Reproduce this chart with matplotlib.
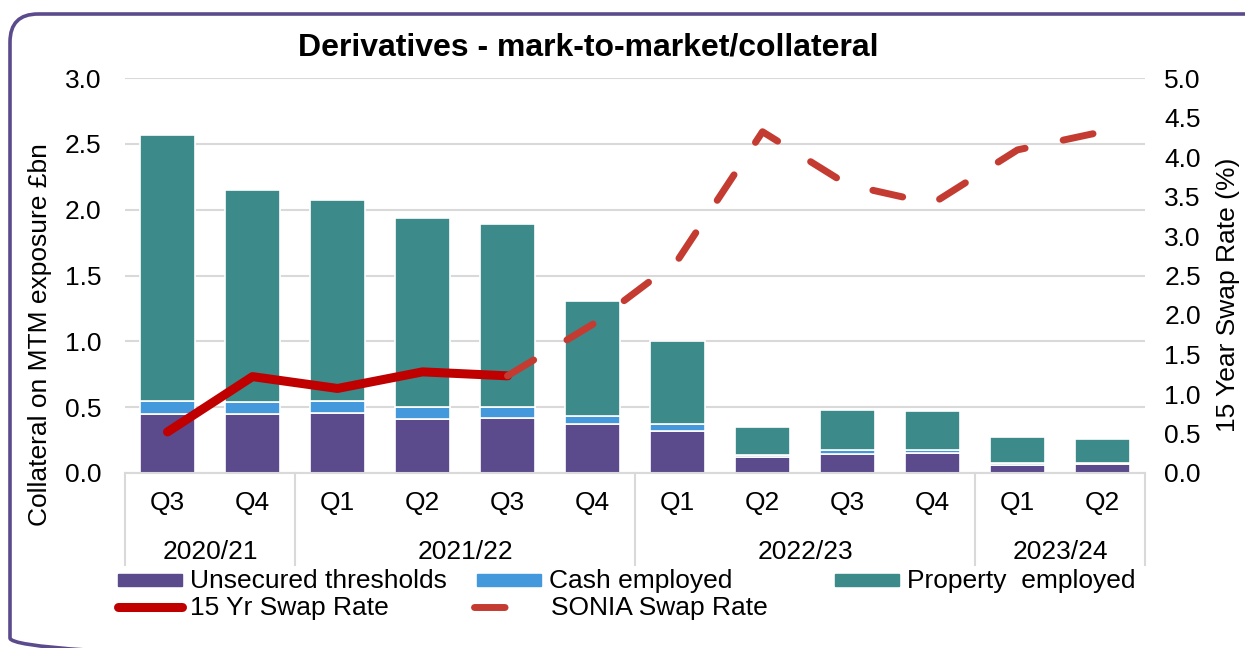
import numpy as np
import matplotlib
matplotlib.use('Agg')
import matplotlib.pyplot as plt
import matplotlib.transforms as mtransforms
from matplotlib.patches import FancyBboxPatch, Rectangle
from matplotlib.lines import Line2D

# quarters and financial years (multi-level category axis)
quarters = ['Q3', 'Q4', 'Q1', 'Q2', 'Q3', 'Q4', 'Q1', 'Q2', 'Q3', 'Q4', 'Q1', 'Q2']
years = ['2020/21', '2021/22', '2022/23', '2023/24']
year_counts = [2, 4, 4, 2]

# collateral on MTM exposure, GBP bn
unsecured = [0.45, 0.45, 0.455, 0.41, 0.42, 0.375, 0.32, 0.12, 0.145, 0.155, 0.06, 0.065]
cash = [0.10, 0.09, 0.09, 0.095, 0.085, 0.055, 0.05, 0.015, 0.03, 0.02, 0.015, 0.012]
prop = [2.02, 1.61, 1.53, 1.43, 1.385, 0.875, 0.63, 0.215, 0.30, 0.295, 0.195, 0.18]

# swap rates, %
swap_15yr = [0.52, 1.22, 1.07, 1.28, 1.23] + [np.nan] * 7
sonia = [np.nan] * 4 + [1.23, 1.88, 2.69, 4.32, 3.65, 3.41, 4.09, 4.32]

PURPLE = '#5B4A8C'
BLUE = '#4499DD'
TEAL = '#3D8A8A'
RED15 = '#C00000'
REDSONIA = '#C43B32'
GRID = '#D9D9D9'
FS = 19

plt.rcParams['font.family'] = ['Liberation Sans', 'DejaVu Sans']

W, H = 1245, 648
fig = plt.figure(figsize=(W / 100, H / 100), dpi=100)

# background layer in pixel coordinates: border + legend
bg = fig.add_axes([0, 0, 1, 1], zorder=-1)
bg.set_xlim(0, W)
bg.set_ylim(H, 0)
bg.axis('off')
bg.patch.set_visible(False)
bg.add_patch(FancyBboxPatch((10, 14), 1280, 652,
                            boxstyle='round,pad=0,rounding_size=28',
                            fill=False, edgecolor=PURPLE, linewidth=2.6))

x0, x1, y0, y1 = 125, 1145, 473, 78
ax = fig.add_axes([x0 / W, 1 - y0 / H, (x1 - x0) / W, (y0 - y1) / H])
x = np.arange(len(quarters))
bw = 0.65
edge = dict(edgecolor='white', linewidth=1.2)

bottom2 = np.array(unsecured) + np.array(cash)
ax.bar(x, unsecured, bw, color=PURPLE, **edge)
ax.bar(x, cash, bw, bottom=unsecured, color=BLUE, **edge)
ax.bar(x, prop, bw, bottom=bottom2, color=TEAL, **edge)

ax.set_xlim(-0.5, len(quarters) - 0.5)
ax.set_ylim(0, 3.0)
ax.set_yticks(np.arange(0, 3.01, 0.5))
ax.set_yticklabels(['{:.1f}'.format(v) for v in np.arange(0, 3.01, 0.5)])
ax.yaxis.grid(True, color=GRID, linewidth=1.5)
ax.set_axisbelow(True)
ax.tick_params(axis='y', length=0, pad=17, labelsize=FS)
ax.set_xticks(x)
ax.set_xticklabels(quarters)
ax.tick_params(axis='x', length=0, pad=13, labelsize=FS)
for s in ['top', 'left', 'right']:
    ax.spines[s].set_visible(False)
ax.spines['bottom'].set_color(GRID)
ax.spines['bottom'].set_linewidth(1.5)

# year level of the category axis
trans = mtransforms.blended_transform_factory(ax.transData, ax.transAxes)
ybot = -(565 - y0) / (y0 - y1)
start = -0.5
bounds = [start]
for yr, n in zip(years, year_counts):
    ax.text(start + n / 2, -(552 - y0) / (y0 - y1), yr, transform=trans,
            ha='center', va='center', fontsize=FS)
    start += n
    bounds.append(start)
for b in bounds:
    ax.plot([b, b], [0, ybot], transform=trans, color=GRID, lw=1.5,
            clip_on=False)

# swap rates on secondary axis
ax2 = ax.twinx()
ax2.plot(x, swap_15yr, color=RED15, lw=6.5, solid_capstyle='round',
         solid_joinstyle='round')
ax2.plot(x, sonia, color=REDSONIA, lw=5, linestyle=(0, (4.4, 5.6)),
         dash_capstyle='round', dash_joinstyle='round')
ax2.set_ylim(0, 5.0)
ax2.set_yticks(np.arange(0, 5.01, 0.5))
ax2.set_yticklabels(['{:.1f}'.format(v) for v in np.arange(0, 5.01, 0.5)])
ax2.tick_params(axis='y', length=0, pad=14, labelsize=FS)
for s in ax2.spines.values():
    s.set_visible(False)

fig.text(40 / W, 1 - 335 / H, 'Collateral on MTM exposure £bn', rotation=90,
         ha='center', va='center', fontsize=FS)
fig.text(1228 / W, 1 - 295 / H, '15 Year Swap Rate (%)', rotation=90,
         ha='center', va='center', fontsize=FS)
fig.text(588 / W, 1 - 47 / H, 'Derivatives - mark-to-market/collateral',
         ha='center', va='center', fontsize=23, fontweight='bold')

# legend drawn by hand to follow the Excel layout
for (lx, lbl, col) in [(118, 'Unsecured thresholds', PURPLE),
                       (477, 'Cash employed', BLUE),
                       (835, 'Property  employed', TEAL)]:
    bg.add_patch(Rectangle((lx, 574), 64, 12, color=col))
    bg.text(lx + 72, 581, lbl, va='center', ha='left', fontsize=FS)
bg.add_line(Line2D([118, 182], [607, 607], color=RED15, lw=6.5,
                   solid_capstyle='round'))
bg.text(190, 608, '15 Yr Swap Rate', va='center', ha='left', fontsize=FS)
bg.add_line(Line2D([474, 538], [607, 607], color=REDSONIA, lw=5,
                   linestyle=(0, (4.4, 5.6)), dash_capstyle='round'))
bg.text(551, 608, 'SONIA Swap Rate', va='center', ha='left', fontsize=FS)

fig.savefig('out.png', dpi=100)
